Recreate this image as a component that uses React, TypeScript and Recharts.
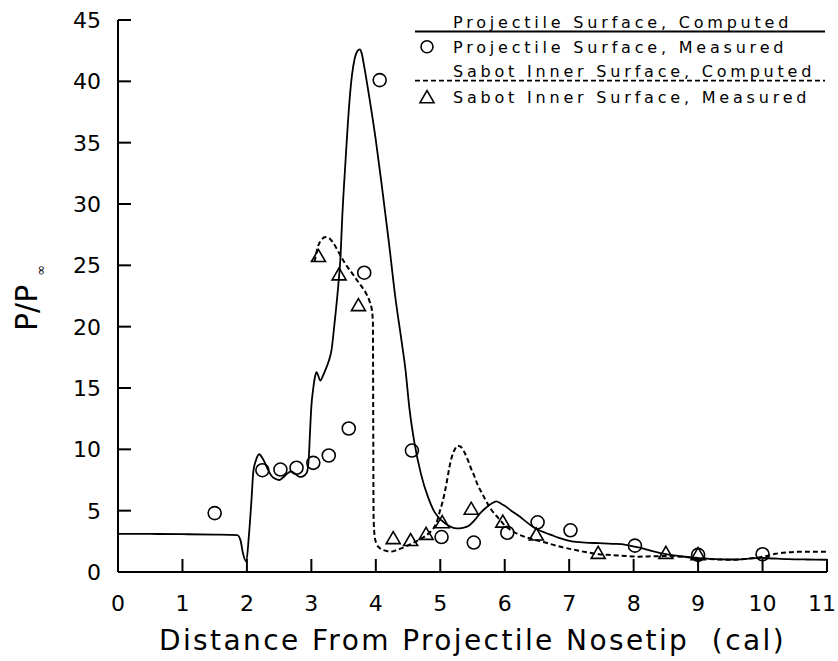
import React from 'react';
import { ComposedChart, Line, Scatter, XAxis, YAxis, Legend, Label } from 'recharts';

// ---------- data ----------
const xTicks = [0, 1, 2, 3, 4, 5, 6, 7, 8, 9, 10, 11];
const yTicks = [0, 5, 10, 15, 20, 25, 30, 35, 40, 45];

const legendLabels = [
  'Projectile Surface, Computed',
  'Projectile Surface, Measured',
  'Sabot Inner Surface, Computed',
  'Sabot Inner Surface, Measured',
];

const xAxisTitle = 'Distance From Projectile Nosetip\u00A0\u00A0(cal)';
const yAxisTitle = 'P/P';
const yAxisSub = '\u221E';

// Projectile surface, computed (solid line)
const projectileComputed: [number, number][] = [
  [0, 3.1], [0.5, 3.1], [1.0, 3.08], [1.5, 3.05], [1.85, 3.0], [1.9, 2.6], [1.94, 1.5],
  [1.99, 0.85], [2.03, 2.9], [2.07, 5.8], [2.1, 8.2], [2.14, 9.1], [2.19, 9.6], [2.24, 9.3],
  [2.28, 8.9], [2.33, 8.3], [2.38, 7.85], [2.44, 7.6], [2.5, 7.5], [2.56, 7.7], [2.62, 8.0],
  [2.69, 8.2], [2.75, 8.0], [2.82, 7.75], [2.87, 7.8], [2.93, 8.1], [2.96, 9.3], [2.98, 11.5],
  [3.0, 13.5], [3.03, 15.0], [3.06, 16.0], [3.08, 16.3], [3.14, 15.6], [3.18, 16.0],
  [3.22, 16.5], [3.27, 17.2], [3.31, 18.0], [3.36, 20.3], [3.42, 23.5], [3.45, 25.5],
  [3.48, 29.0], [3.53, 33.5], [3.59, 38.3], [3.63, 40.5], [3.67, 41.8], [3.72, 42.5],
  [3.75, 42.6], [3.78, 42.3], [3.82, 41.2], [3.89, 39.0], [4.0, 35.2], [4.1, 31.2],
  [4.2, 27.0], [4.3, 22.5], [4.4, 18.8], [4.46, 16.5], [4.52, 13.4], [4.6, 10.5], [4.7, 8.0],
  [4.81, 6.1], [4.91, 4.9], [5.02, 4.2], [5.14, 3.74], [5.25, 3.55], [5.35, 3.6], [5.45, 3.8],
  [5.53, 4.2], [5.62, 4.8], [5.7, 5.2], [5.79, 5.56], [5.87, 5.75], [5.95, 5.55], [6.0, 5.4],
  [6.1, 5.0], [6.21, 4.6], [6.32, 4.15], [6.42, 3.75], [6.52, 3.45], [6.63, 3.2], [6.73, 3.0],
  [6.83, 2.8], [7.04, 2.5], [7.25, 2.4], [7.46, 2.35], [7.67, 2.3], [7.88, 2.22], [8.08, 2.0],
  [8.29, 1.7], [8.5, 1.45], [8.71, 1.3], [8.92, 1.17], [9.13, 1.09], [9.33, 1.03], [9.54, 1.02],
  [9.75, 1.07], [9.96, 1.15], [10.17, 1.1], [10.4, 1.05], [10.7, 1.02], [11.0, 1.0],
];

// Sabot inner surface, computed (dashed line)
const sabotComputed: [number, number][] = [
  [3.05, 25.3], [3.1, 26.5], [3.16, 27.1], [3.22, 27.3], [3.28, 27.2], [3.33, 26.9],
  [3.43, 26.0], [3.53, 25.1], [3.64, 24.3], [3.72, 23.7], [3.79, 23.2], [3.85, 22.7],
  [3.9, 22.1], [3.94, 21.3], [3.955, 20.3], [3.96, 12.0], [3.965, 4.6], [3.98, 3.0],
  [4.01, 2.3], [4.06, 1.95], [4.11, 1.8], [4.18, 1.7], [4.24, 1.67], [4.32, 1.78], [4.4, 1.94],
  [4.55, 2.3], [4.66, 2.6], [4.76, 2.9], [4.85, 3.3], [4.91, 3.7], [4.96, 4.3], [4.99, 4.9],
  [5.03, 5.6], [5.07, 6.5], [5.11, 7.6], [5.14, 8.5], [5.18, 9.4], [5.22, 9.95], [5.27, 10.3],
  [5.32, 10.2], [5.38, 9.7], [5.43, 9.1], [5.48, 8.4], [5.53, 7.8], [5.58, 7.1], [5.64, 6.5],
  [5.69, 6.0], [5.79, 5.1], [5.9, 4.4], [6.0, 3.8], [6.1, 3.4], [6.21, 3.07], [6.42, 2.7],
  [6.63, 2.4], [6.83, 2.1], [7.04, 1.85], [7.25, 1.63], [7.46, 1.45], [7.67, 1.38], [7.88, 1.3],
  [8.08, 1.25], [8.29, 1.28], [8.5, 1.3], [8.71, 1.25], [8.92, 1.17], [9.13, 1.08], [9.33, 1.02],
  [9.54, 1.0], [9.75, 1.07], [9.96, 1.2], [10.1, 1.35], [10.2, 1.48], [10.38, 1.6],
  [10.58, 1.65], [10.8, 1.65], [11.0, 1.65],
];

// Projectile surface, measured (circles)
const projectileMeasured: [number, number][] = [
  [1.5, 4.8], [2.24, 8.3], [2.52, 8.35], [2.77, 8.5], [3.03, 8.9], [3.27, 9.5], [3.58, 11.7],
  [3.82, 24.4], [4.06, 40.1], [4.56, 9.9], [5.02, 2.85], [5.52, 2.4], [6.04, 3.2], [6.51, 4.05],
  [7.02, 3.4], [8.02, 2.15], [9.0, 1.4], [10.0, 1.45],
];

// Sabot inner surface, measured (triangles)
const sabotMeasured: [number, number][] = [
  [3.11, 25.8], [3.43, 24.3], [3.73, 21.8], [4.27, 2.8], [4.54, 2.65], [4.78, 3.15],
  [5.03, 4.1], [5.48, 5.2], [5.97, 4.15], [6.49, 3.1], [7.45, 1.6], [8.5, 1.6], [9.0, 1.5],
];

const toRows = (pts: [number, number][]) => pts.map(([x, y]) => ({ x, y }));

// ---------- styling ----------
const FONT = '"DejaVu Sans", sans-serif';
const INK = '#000';
const CHART_W = 838;

const XTick = (props: any) => {
  const { x, y, payload } = props;
  const label = String(payload.value);
  const halfW = label.length * 7;
  const tx = Math.min(x, CHART_W - 2 - halfW);
  return (
    <g>
      <line x1={x} x2={x} y1={y} y2={y - 13} stroke={INK} strokeWidth={2} />
      <text x={tx} y={y + 39} textAnchor="middle" fontFamily={FONT} fontSize={22} fill={INK}>
        {label}
      </text>
    </g>
  );
};

const YTick = (props: any) => {
  const { x, y, payload } = props;
  return (
    <g>
      <line x1={x} x2={x + 13} y1={y} y2={y} stroke={INK} strokeWidth={2} />
      <text x={x - 17} y={y + 8} textAnchor="end" fontFamily={FONT} fontSize={22} fill={INK}>
        {payload.value}
      </text>
    </g>
  );
};

const CircleShape = (props: any) => {
  const { cx, cy } = props;
  if (cx == null || cy == null) return null;
  return <circle cx={cx} cy={cy} r={6.5} fill="none" stroke={INK} strokeWidth={1.6} />;
};

const TriangleShape = (props: any) => {
  const { cx, cy } = props;
  if (cx == null || cy == null) return null;
  const w = 7, h = 12;
  const pts = `${cx - w},${cy + h / 2} ${cx + w},${cy + h / 2} ${cx},${cy - h / 2}`;
  return <polygon points={pts} fill="none" stroke={INK} strokeWidth={1.6} strokeLinejoin="miter" />;
};

const XTitle = (props: any) => {
  const vb = props.viewBox || { x: 118, y: 572, width: 709, height: 89 };
  return (
    <text
      x={vb.x + vb.width / 2}
      y={vb.y + 78}
      textAnchor="middle"
      fontFamily={FONT}
      fontSize={28}
      letterSpacing={2.4}
      fill={INK}
    >
      {xAxisTitle}
    </text>
  );
};

const YTitle = (props: any) => {
  const vb = props.viewBox || { x: 0, y: 20, width: 118, height: 552 };
  const bx = 37;
  const by = vb.y + vb.height / 2 + 35;
  return (
    <text
      transform={`rotate(-90, ${bx}, ${by})`}
      x={bx}
      y={by}
      fontFamily={FONT}
      fontSize={30}
      fill={INK}
    >
      {yAxisTitle}
      <tspan dx={9} dy={8} fontSize={13}>{yAxisSub}</tspan>
    </text>
  );
};

const LegendContent = () => {
  const tx = 453;
  const fs = 16;
  const textProps = { fontFamily: FONT, fontSize: fs, letterSpacing: 3.8, fill: INK };
  const rows = [21.7, 46.7, 70.7, 96.7];
  return (
    <svg width={838} height={115} style={{ display: 'block' }}>
      <text x={tx} y={rows[0] + 6} {...textProps}>{legendLabels[0]}</text>
      <line x1={415} x2={825} y1={31.5} y2={31.5} stroke={INK} strokeWidth={1.8} />
      <circle cx={427} cy={rows[1]} r={6} fill="none" stroke={INK} strokeWidth={1.6} />
      <text x={tx} y={rows[1] + 6} {...textProps}>{legendLabels[1]}</text>
      <text x={tx} y={rows[2] + 6} {...textProps}>{legendLabels[2]}</text>
      <line x1={415} x2={825} y1={80.7} y2={80.7} stroke={INK} strokeWidth={1.8} strokeDasharray="5 3" />
      <polygon
        points={`${427 - 7},${rows[3] + 6} ${427 + 7},${rows[3] + 6} ${427},${rows[3] - 6}`}
        fill="none"
        stroke={INK}
        strokeWidth={1.6}
      />
      <text x={tx} y={rows[3] + 6} {...textProps}>{legendLabels[3]}</text>
    </svg>
  );
};

export default function App() {
  return (
    <div style={{ position: 'absolute', left: 0, top: 0, width: 838, height: 661, background: '#fff' }}>
      <ComposedChart width={838} height={661} margin={{ top: 20, right: 11, bottom: 0, left: 0 }}>
        <XAxis
          type="number"
          dataKey="x"
          domain={[0, 11]}
          ticks={xTicks}
          allowDataOverflow
          height={89}
          tickLine={false}
          tickSize={0}
          tickMargin={0}
          tick={<XTick />}
          axisLine={{ stroke: INK, strokeWidth: 2 }}
          interval={0}
        >
          <Label content={<XTitle />} />
        </XAxis>
        <YAxis
          type="number"
          dataKey="y"
          domain={[0, 45]}
          ticks={yTicks}
          allowDataOverflow
          width={118}
          tickLine={false}
          tickSize={0}
          tickMargin={0}
          tick={<YTick />}
          axisLine={{ stroke: INK, strokeWidth: 2 }}
          interval={0}
        >
          <Label content={<YTitle />} />
        </YAxis>
        <Legend
          layout="vertical"
          align="center"
          verticalAlign="middle"
          content={<LegendContent />}
          wrapperStyle={{ position: 'absolute', left: 0, top: 0, width: 838, height: 115, margin: 0, padding: 0 }}
        />
        <Line
          data={toRows(projectileComputed)}
          dataKey="y"
          type="monotone"
          stroke={INK}
          strokeWidth={1.8}
          dot={false}
          activeDot={false}
          isAnimationActive={false}
          legendType="none"
        />
        <Line
          data={toRows(sabotComputed)}
          dataKey="y"
          type="monotone"
          stroke={INK}
          strokeWidth={2}
          strokeDasharray="5 3"
          dot={false}
          activeDot={false}
          isAnimationActive={false}
          legendType="none"
        />
        <Scatter
          data={toRows(projectileMeasured)}
          dataKey="y"
          shape={<CircleShape />}
          isAnimationActive={false}
          legendType="none"
        />
        <Scatter
          data={toRows(sabotMeasured)}
          dataKey="y"
          shape={<TriangleShape />}
          isAnimationActive={false}
          legendType="none"
        />
      </ComposedChart>
    </div>
  );
}
